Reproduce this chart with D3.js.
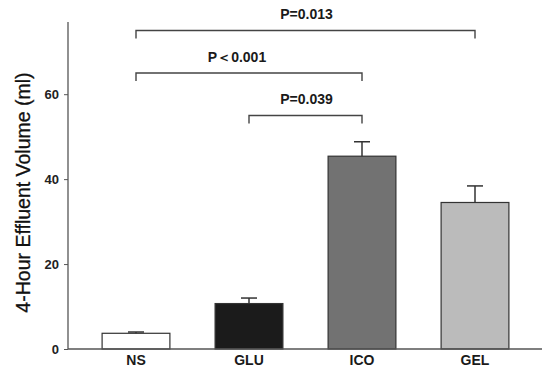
<!DOCTYPE html>
<html>
<head>
<meta charset="utf-8">
<script src="https://cdn.jsdelivr.net/npm/d3@7"></script>
<style>
body { margin: 0; background: #fff; }
svg { font-family: "Liberation Sans", Arial, sans-serif; }
</style>
</head>
<body>
<svg width="550" height="375"></svg>
<script>
const groups = ['NS', 'GLU', 'ICO', 'GEL'];
const means = [3.7, 10.7, 45.4, 34.5];
const errors = [0.3, 1.3, 3.4, 3.9];
const fills = ['#ffffff', '#1b1b1b', '#727272', '#bbbbbb'];
const yTicks = [0, 20, 40, 60];
// comparisons: from group, to group, label, bracket height (data units)
const pFrom = ['NS', 'NS', 'GLU'];
const pTo = ['GEL', 'ICO', 'ICO'];
const pLabels = ['P=0.013', 'P\uFF1C0.001', 'P=0.039'];
const pLevels = [75, 65, 55];

const svg = d3.select('svg');

const x = d3.scaleBand().domain(groups).range([79.5, 531.5]).paddingInner(0.4).paddingOuter(0.2);
const y = d3.scaleLinear().domain([0, 77]).range([349, 22]);

// bars
svg.selectAll('rect.bar')
    .data(groups)
    .join('rect')
    .attr('class', 'bar')
    .attr('x', d => x(d))
    .attr('width', x.bandwidth())
    .attr('y', (d, i) => y(means[i]))
    .attr('height', (d, i) => y(0) - y(means[i]))
    .attr('fill', (d, i) => fills[i])
    .attr('stroke', '#333')
    .attr('stroke-width', 1.2);

// error bars (upper only)
const eb = svg.selectAll('g.err').data(groups).join('g').attr('class', 'err')
    .attr('stroke', '#333').attr('stroke-width', 1.5);
eb.append('line')
    .attr('x1', d => x(d) + x.bandwidth() / 2)
    .attr('x2', d => x(d) + x.bandwidth() / 2)
    .attr('y1', (d, i) => y(means[i]))
    .attr('y2', (d, i) => y(means[i] + errors[i]));
eb.append('line')
    .attr('x1', d => x(d) + x.bandwidth() / 2 - 8)
    .attr('x2', d => x(d) + x.bandwidth() / 2 + 8)
    .attr('y1', (d, i) => y(means[i] + errors[i]))
    .attr('y2', (d, i) => y(means[i] + errors[i]));

// y axis
const yAxis = svg.append('g')
    .attr('transform', 'translate(68,0)')
    .call(d3.axisLeft(y).tickValues(yTicks).tickSize(4).tickPadding(5));
yAxis.select('.domain').attr('d', `M0,${y(77)}V${y(0)}`).attr('stroke', '#555').attr('stroke-width', 1.3);
yAxis.selectAll('.tick line').attr('stroke', '#555');
yAxis.selectAll('.tick text')
    .attr('font-size', 13).attr('font-weight', 'bold').attr('fill', '#222')
    .attr('font-family', '"Liberation Sans", Arial, sans-serif');

// x axis
const xAxis = svg.append('g')
    .attr('transform', `translate(0,${y(0)})`)
    .call(d3.axisBottom(x).tickSize(0).tickPadding(6));
xAxis.select('.domain').attr('d', 'M68,0H542').attr('stroke', '#555').attr('stroke-width', 1.3);
xAxis.selectAll('.tick text')
    .attr('font-size', 14).attr('font-weight', 'bold').attr('fill', '#1a1a1a')
    .attr('font-family', '"Liberation Sans", Arial, sans-serif');

// y title
svg.append('text')
    .attr('transform', `translate(30,${(y(0) + y(77)) / 2 + 7}) rotate(-90)`)
    .attr('text-anchor', 'middle')
    .attr('font-size', 19.5)
    .attr('fill', '#111')
    .attr('stroke', '#111')
    .attr('stroke-width', 0.3)
    .text('4-Hour Effluent Volume (ml)');

// significance brackets
const cx = g => x(g) + x.bandwidth() / 2;
const br = svg.selectAll('g.br').data(pLabels).join('g').attr('class', 'br');
br.append('path')
    .attr('d', (d, i) => `M${cx(pFrom[i])},${y(pLevels[i]) + 8}V${y(pLevels[i])}H${cx(pTo[i])}V${y(pLevels[i]) + 8}`)
    .attr('fill', 'none')
    .attr('stroke', '#444')
    .attr('stroke-width', 1.4);
br.append('text')
    .attr('x', (d, i) => (cx(pFrom[i]) + cx(pTo[i])) / 2 + (i === 1 ? -12 : 1))
    .attr('y', (d, i) => y(pLevels[i]) - 11)
    .attr('text-anchor', 'middle')
    .attr('font-size', 14)
    .attr('font-weight', 'bold')
    .attr('fill', '#1a1a1a')
    .text(d => d);
</script>
</body>
</html>
